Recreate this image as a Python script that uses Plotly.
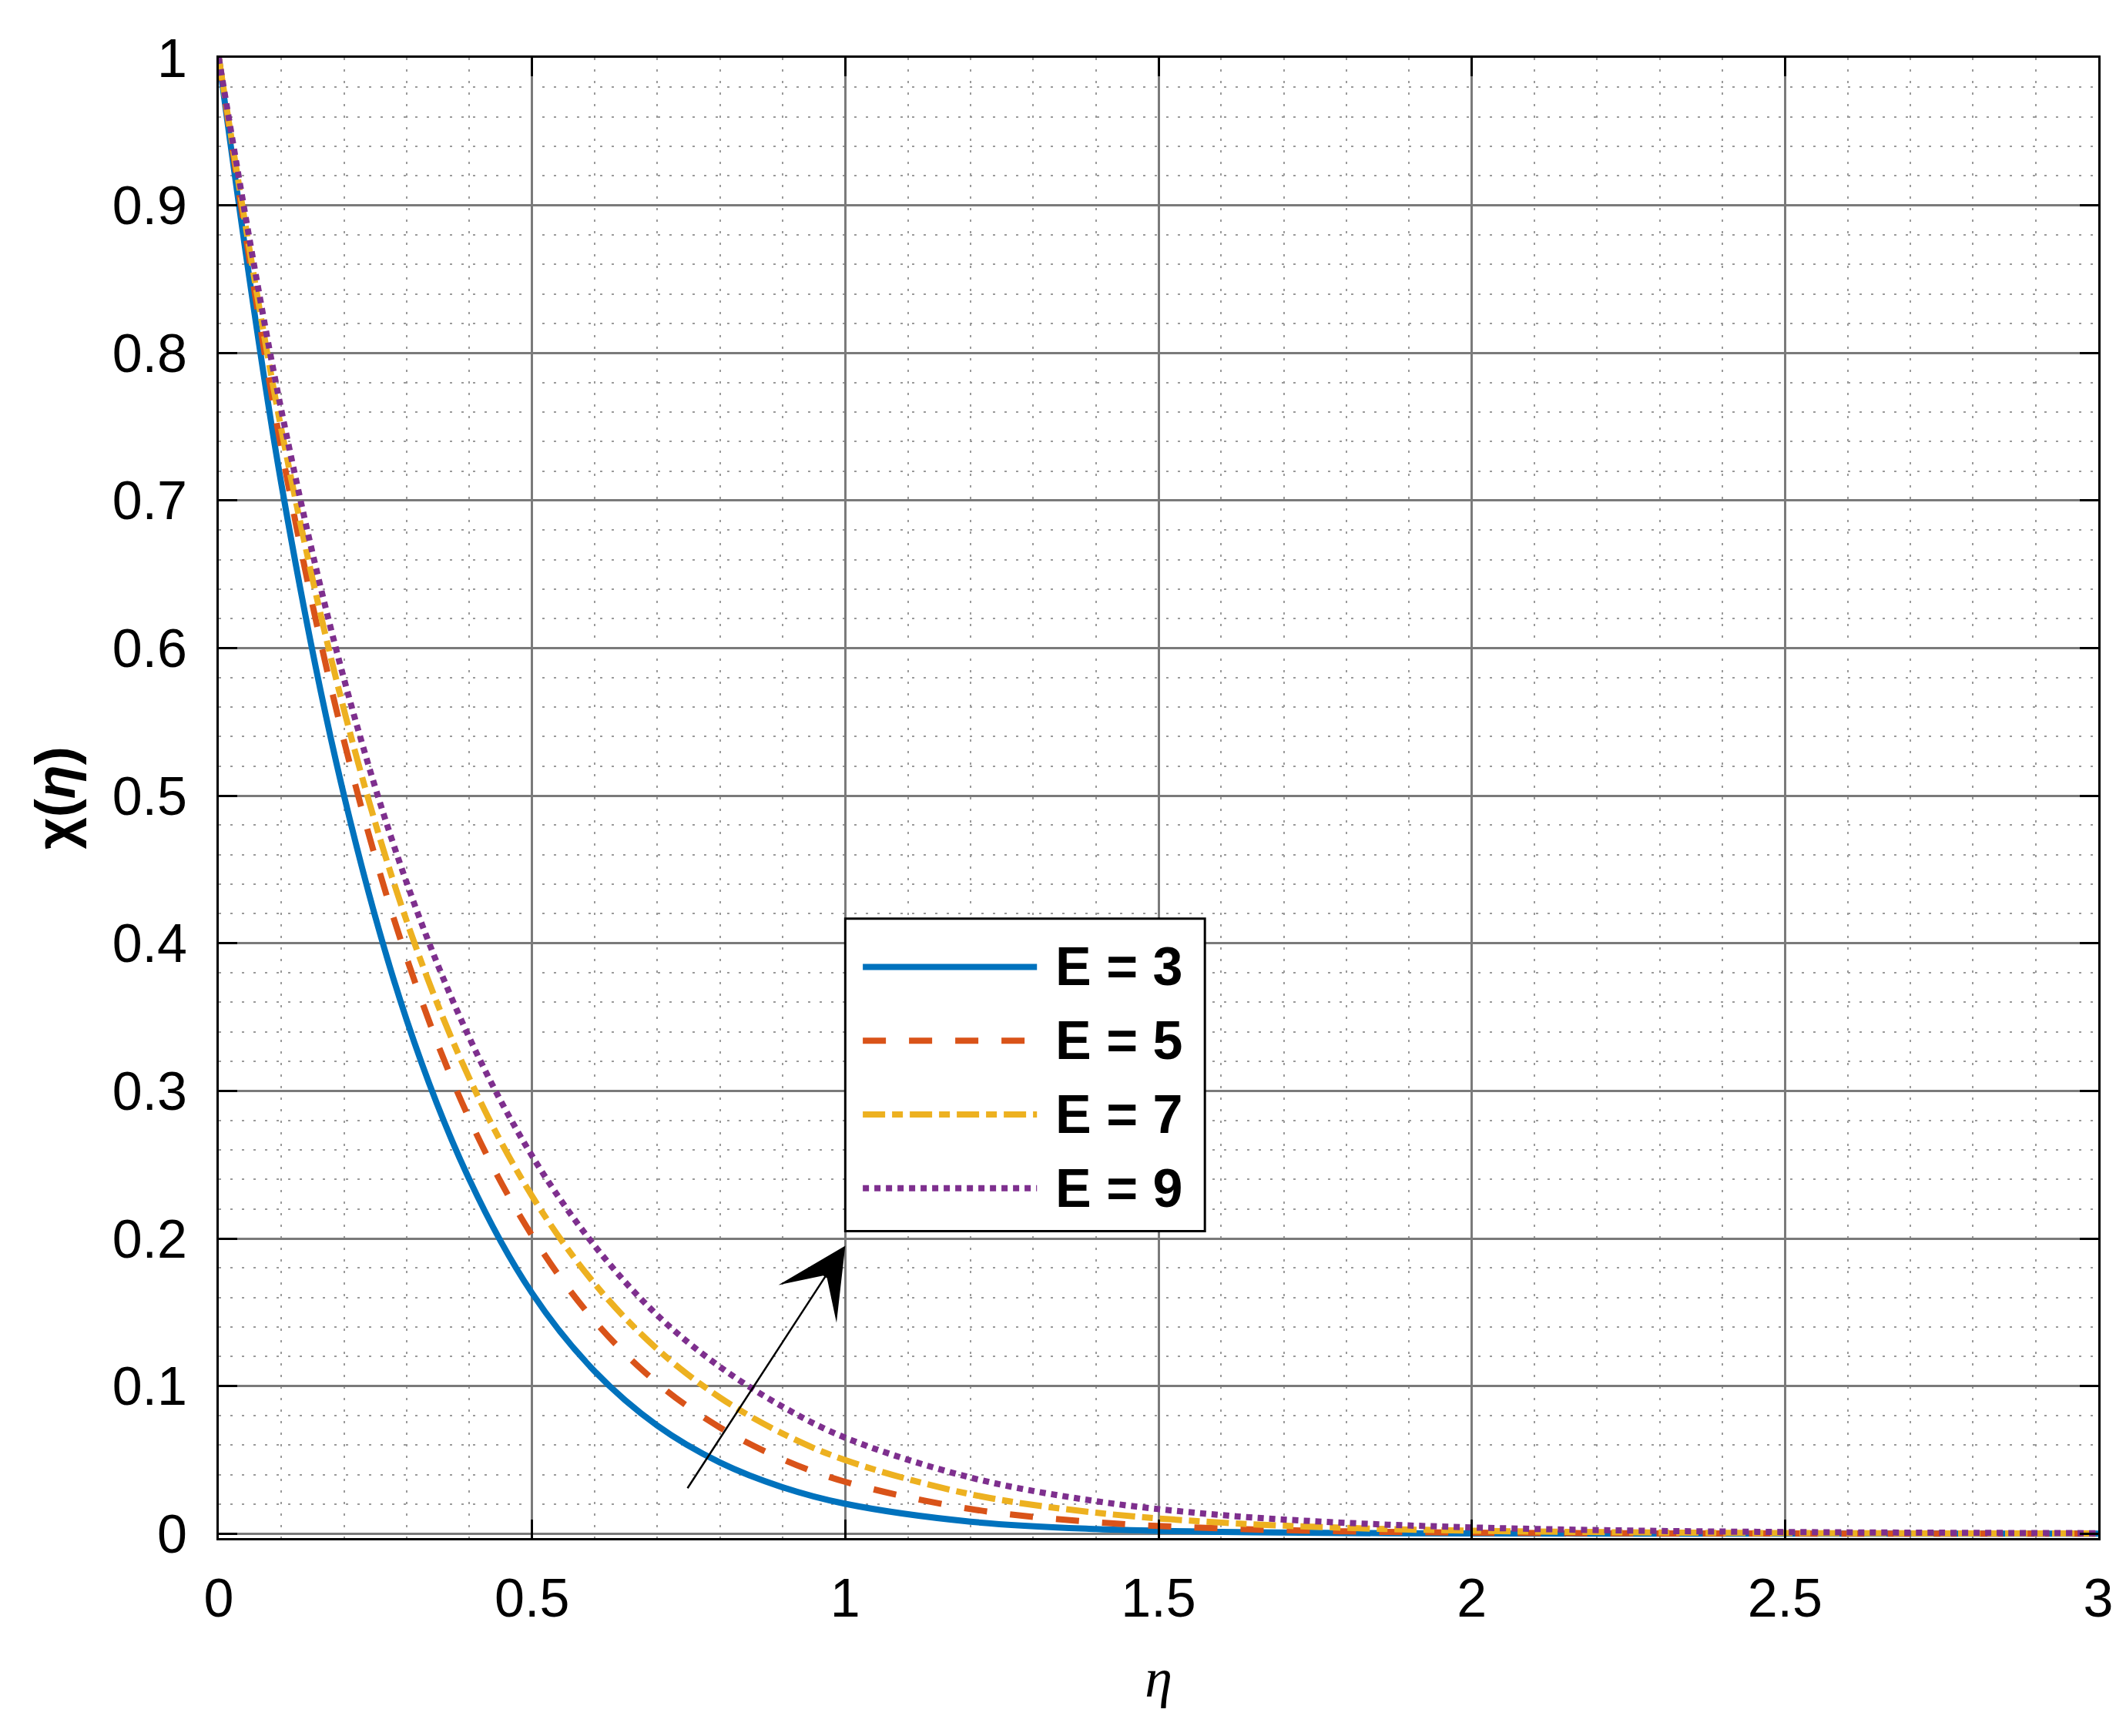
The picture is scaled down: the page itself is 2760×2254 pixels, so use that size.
import plotly.graph_objects as go

eta = [0, 0.1, 0.2, 0.3, 0.4, 0.5, 0.6, 0.7, 0.8, 0.9, 1.0,
       1.2, 1.4, 1.6, 1.8, 2.0, 2.25, 2.5, 2.75, 3.0]

chi_e3 = [1, 0.711, 0.500, 0.348, 0.240, 0.163, 0.110, 0.0732, 0.0482, 0.0314, 0.0202,
          0.0081, 0.0031, 0.00115, 0.0004, 0.00013, 0.00004, 0.00001, 0.0, 0.0]
chi_e5 = [1, 0.735, 0.537, 0.390, 0.281, 0.202, 0.144, 0.102, 0.0719, 0.0504, 0.0351,
          0.0167, 0.00776, 0.00352, 0.00156, 0.00067, 0.00023, 0.00008, 0.00003, 0.00001]
chi_e7 = [1, 0.748, 0.558, 0.415, 0.3085, 0.2288, 0.1693, 0.125, 0.0922, 0.0678, 0.0498,
          0.0267, 0.0142, 0.0075, 0.0039, 0.002, 0.00088, 0.00038, 0.00016, 0.00007]
chi_e9 = [1, 0.761, 0.579, 0.441, 0.336, 0.256, 0.195, 0.148, 0.113, 0.086, 0.065,
          0.038, 0.022, 0.0126, 0.0073, 0.0042, 0.0021, 0.0011, 0.0006, 0.0003]

series_names = ["E = 3", "E = 5", "E = 7", "E = 9"]
series_values = [chi_e3, chi_e5, chi_e7, chi_e9]

x_tickvals = [0, 0.5, 1, 1.5, 2, 2.5, 3]
x_ticktext = ["0", "0.5", "1", "1.5", "2", "2.5", "3"]
y_tickvals = [0, 0.1, 0.2, 0.3, 0.4, 0.5, 0.6, 0.7, 0.8, 0.9, 1]
y_ticktext = ["0", "0.1", "0.2", "0.3", "0.4", "0.5", "0.6", "0.7", "0.8", "0.9", "1"]

colors = ["#0072BD", "#D95319", "#EDB120", "#7E2F8E"]
dashes = ["solid", "30px,30px", "29px,9px,14px,9px", "8px,7px"]
LW = 8
FONT = "Liberation Sans, Arial, sans-serif"

fig = go.Figure()
for name, vals, c, d in zip(series_names, series_values, colors, dashes):
    fig.add_trace(go.Scatter(x=eta, y=vals, mode="lines", name=name,
                             line=dict(color=c, width=LW, dash=d, shape="spline", smoothing=1.0),
                             showlegend=False))

# hand-drawn legend box (MATLAB style, long sample lines)
lx0, lx1, ly0, ly1 = 1.0, 1.574, 0.205, 0.4167
shapes = [dict(type="rect", xref="x", yref="y", x0=lx0, x1=lx1, y0=ly0, y1=ly1,
               fillcolor="white", line=dict(color="black", width=3), layer="above")]
annotations = []
row_y = [0.384, 0.334, 0.284, 0.234]
for name, c, d, ry in zip(series_names, colors, dashes, row_y):
    shapes.append(dict(type="line", xref="x", yref="y", x0=1.028, x1=1.306, y0=ry, y1=ry,
                       line=dict(color=c, width=LW, dash=d), layer="above"))
    annotations.append(dict(xref="x", yref="y", x=1.333, y=ry, text="<b>" + name + "</b>",
                            showarrow=False, xanchor="left", yanchor="middle",
                            font=dict(family=FONT, size=70, color="black")))

# arrow pointing at the legend corner
annotations.append(dict(xref="x", yref="y", axref="x", ayref="y",
                        x=1.0, y=0.195, ax=0.747, ay=0.030, text="",
                        showarrow=True, arrowhead=3, arrowwidth=2.5, arrowsize=6,
                        arrowcolor="black", standoff=0))

fig.update_layout(
    width=2760, height=2254,
    margin=dict(l=276, r=44, t=67, b=265),
    paper_bgcolor="white", plot_bgcolor="white",
    font=dict(family=FONT, size=70, color="black"),
    shapes=shapes, annotations=annotations,
)

fig.update_xaxes(range=[0, 3], tickvals=x_tickvals, ticktext=x_ticktext,
                 showline=True, linecolor="black", linewidth=3, mirror="ticks",
                 ticks="inside", ticklen=24, tickwidth=3, tickcolor="black",
                 showgrid=True, gridcolor="#7a7a7a", gridwidth=3, zeroline=False,
                 ticklabelstandoff=15,
                 minor=dict(dtick=0.1, showgrid=True, gridcolor="#9a9a9a",
                            griddash="3px,12px", gridwidth=2, ticks=""),
                 title=dict(text="η", standoff=40,
                            font=dict(family="Liberation Serif, Times New Roman, serif",
                                      size=72, style="italic")))
fig.update_yaxes(range=[-0.003, 1], tickvals=y_tickvals, ticktext=y_ticktext,
                 showline=True, linecolor="black", linewidth=3, mirror="ticks",
                 ticks="inside", ticklen=24, tickwidth=3, tickcolor="black",
                 showgrid=True, gridcolor="#7a7a7a", gridwidth=3, zeroline=False,
                 ticklabelstandoff=24,
                 minor=dict(dtick=0.02, showgrid=True, gridcolor="#9a9a9a",
                            griddash="3px,12px", gridwidth=2, ticks=""),
                 title=dict(text="<b>χ(<i>η</i>)</b>", standoff=25,
                            font=dict(family=FONT, size=72)))

fig.write_html("out.html")
